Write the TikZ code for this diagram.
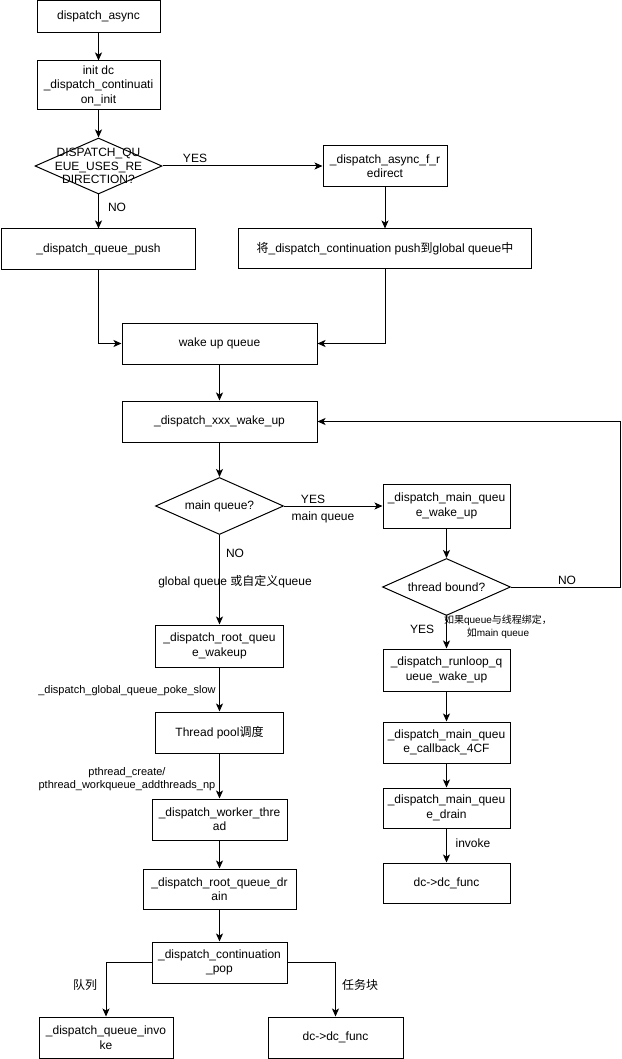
\documentclass[tikz,border=0pt]{standalone}
\usepackage{fontspec}
\setmainfont{Liberation Sans}
\newfontfamily\cjk{Noto Sans CJK SC}
\usetikzlibrary{shapes.geometric,arrows.meta}

\begin{document}
\begin{tikzpicture}[x=1pt,y=-1pt,
  every node/.style={font=\fontsize{12}{14.4}\selectfont, inner sep=0pt},
  box/.style={draw, line width=1pt, align=center},
  dia/.style={draw, line width=1pt, diamond},
  lab/.style={align=center},
  mid/.style={align=center, font=\fontsize{11}{13.5}\selectfont},
  small/.style={align=center, font=\fontsize{10}{13}\selectfont},
  conn/.style={draw, line width=1pt, -{Stealth[length=8pt,width=7pt,inset=2pt]}},
]
\useasboundingbox (0,0) rectangle (621,1059);

% left column
\node[box, minimum width=123pt, minimum height=32.5pt] (async) at (98.5,16.75) {dispatch\_async};
\node[box, minimum width=123pt, minimum height=49pt] (init) at (98.5,85.5) {init dc\\\_dispatch\_continuati\\on\_init};
\node[dia, minimum width=127pt, minimum height=56pt,
      label={[lab, font=\fontsize{12}{13.8}\selectfont]center:{DISPATCH\_QU\\EUE\_USES\_RE\\DIRECTION?}}] (d1) at (98.5,166) {};
\node[box, minimum width=194pt, minimum height=40pt] (qp) at (98.5,249) {\_dispatch\_queue\_push};
\node[box, minimum width=124pt, minimum height=41pt] (redir) at (385,166) {\_dispatch\_async\_f\_r\\edirect};
\node[box, minimum width=293pt, minimum height=39pt] (jiang) at (385,248.5) {{\cjk 将}\_dispatch\_continuation push{\cjk 到}global queue{\cjk 中}};
\node[box, minimum width=195pt, minimum height=41pt] (wq) at (219.5,343.5) {wake up queue};
\node[box, minimum width=195pt, minimum height=41pt] (xxx) at (219.5,421.5) {\_dispatch\_xxx\_wake\_up};
\node[dia, minimum width=128pt, minimum height=57pt,
      label={[lab]center:{main queue?}}] (d2) at (219.5,506) {};
\node[box, minimum width=127pt, minimum height=44pt] (mwake) at (446.5,506) {\_dispatch\_main\_queu\\e\_wake\_up};
\node[dia, minimum width=128pt, minimum height=57pt,
      label={[lab]center:{thread bound?}}] (d3) at (446.5,587) {};
\node[box, minimum width=128pt, minimum height=42pt] (root) at (219.5,646) {\_dispatch\_root\_queu\\e\_wakeup};
\node[box, minimum width=128pt, minimum height=41pt] (pool) at (219.5,732.5) {Thread pool{\cjk 调度}};
\node[box, minimum width=135pt, minimum height=41pt] (worker) at (219.5,819.5) {\_dispatch\_worker\_thre\\ad};
\node[box, minimum width=153pt, minimum height=40pt] (rdrain) at (219.5,889) {\_dispatch\_root\_queue\_dr\\ain};
\node[box, minimum width=135pt, minimum height=41pt] (pop) at (219.5,962.5) {\_dispatch\_continuation\\\_pop};
\node[box, minimum width=134pt, minimum height=41pt] (qinv) at (106,1037.5) {\_dispatch\_queue\_invo\\ke};
\node[box, minimum width=135pt, minimum height=41pt] (dcf2) at (335.5,1037.5) {dc->dc\_func};

% right column
\node[box, minimum width=127pt, minimum height=42pt] (runloop) at (446.5,670) {\_dispatch\_runloop\_q\\ueue\_wake\_up};
\node[box, minimum width=127pt, minimum height=41pt] (cb) at (446.5,742.5) {\_dispatch\_main\_queu\\e\_callback\_4CF};
\node[box, minimum width=127pt, minimum height=40pt] (mdrain) at (446.5,808) {\_dispatch\_main\_queu\\e\_drain};
\node[box, minimum width=127pt, minimum height=40pt] (dcf1) at (446.5,883) {dc->dc\_func};

\coordinate (loopA) at (620.5,587);
\coordinate (loopB) at (620.5,421.5);

% labels
\node[lab] (yes1) at (195,158) {YES};
\node[lab] (no1) at (117,207) {NO};
\node[lab] (yes2) at (313,499) {YES};
\node[lab] (mq) at (323,517) {main queue};
\node[lab] (no2) at (235,553) {NO};
\node[lab] (gq) at (235,582) {global queue {\cjk 或自定义}queue};
\node[lab] (no3) at (567,580) {NO};
\node[lab] (yes3) at (422,629) {YES};
\node[small] (bound) at (498,626.5) {{\cjk 如果}queue{\cjk 与线程绑定，}\\{\cjk 如}main queue};
\node[mid] (poke) at (127,691) {\_dispatch\_global\_queue\_poke\_slow};
\node[mid] (pcreate) at (127,779) {pthread\_create/\\pthread\_workqueue\_addthreads\_np};
\node[lab] (invoke) at (473,843) {invoke};
\node[lab] (qlab) at (85,985) {\cjk 队列};
\node[lab] (tlab) at (360,985) {\cjk 任务块};

% connectors
\path[conn] (async) -- (init);
\path[conn] (init) -- (d1);
\path[conn] (d1) -- (qp);
\path[conn] (d1.east) -- (redir.west);
\path[conn] (redir) -- (jiang);
\path[conn] (qp.south) |- (wq.west);
\path[conn] (jiang.south) |- (wq.east);
\path[conn] (wq) -- (xxx);
\path[conn] (xxx) -- (d2);
\path[conn] (d2.east) -- (mwake.west);
\path[conn] (d2.south) -- (root.north);
\path[conn] (mwake) -- (d3);
\path[conn] (d3.east) -- (loopA) -- (loopB) -- (xxx.east);
\path[conn] (d3.south) -- (runloop.north);
\path[conn] (runloop) -- (cb);
\path[conn] (cb) -- (mdrain);
\path[conn] (mdrain) -- (dcf1);
\path[conn] (root) -- (pool);
\path[conn] (pool) -- (worker);
\path[conn] (worker) -- (rdrain);
\path[conn] (rdrain) -- (pop);
\path[conn] (pop.west) -| (qinv.north);
\path[conn] (pop.east) -| (dcf2.north);
\end{tikzpicture}
\end{document}
